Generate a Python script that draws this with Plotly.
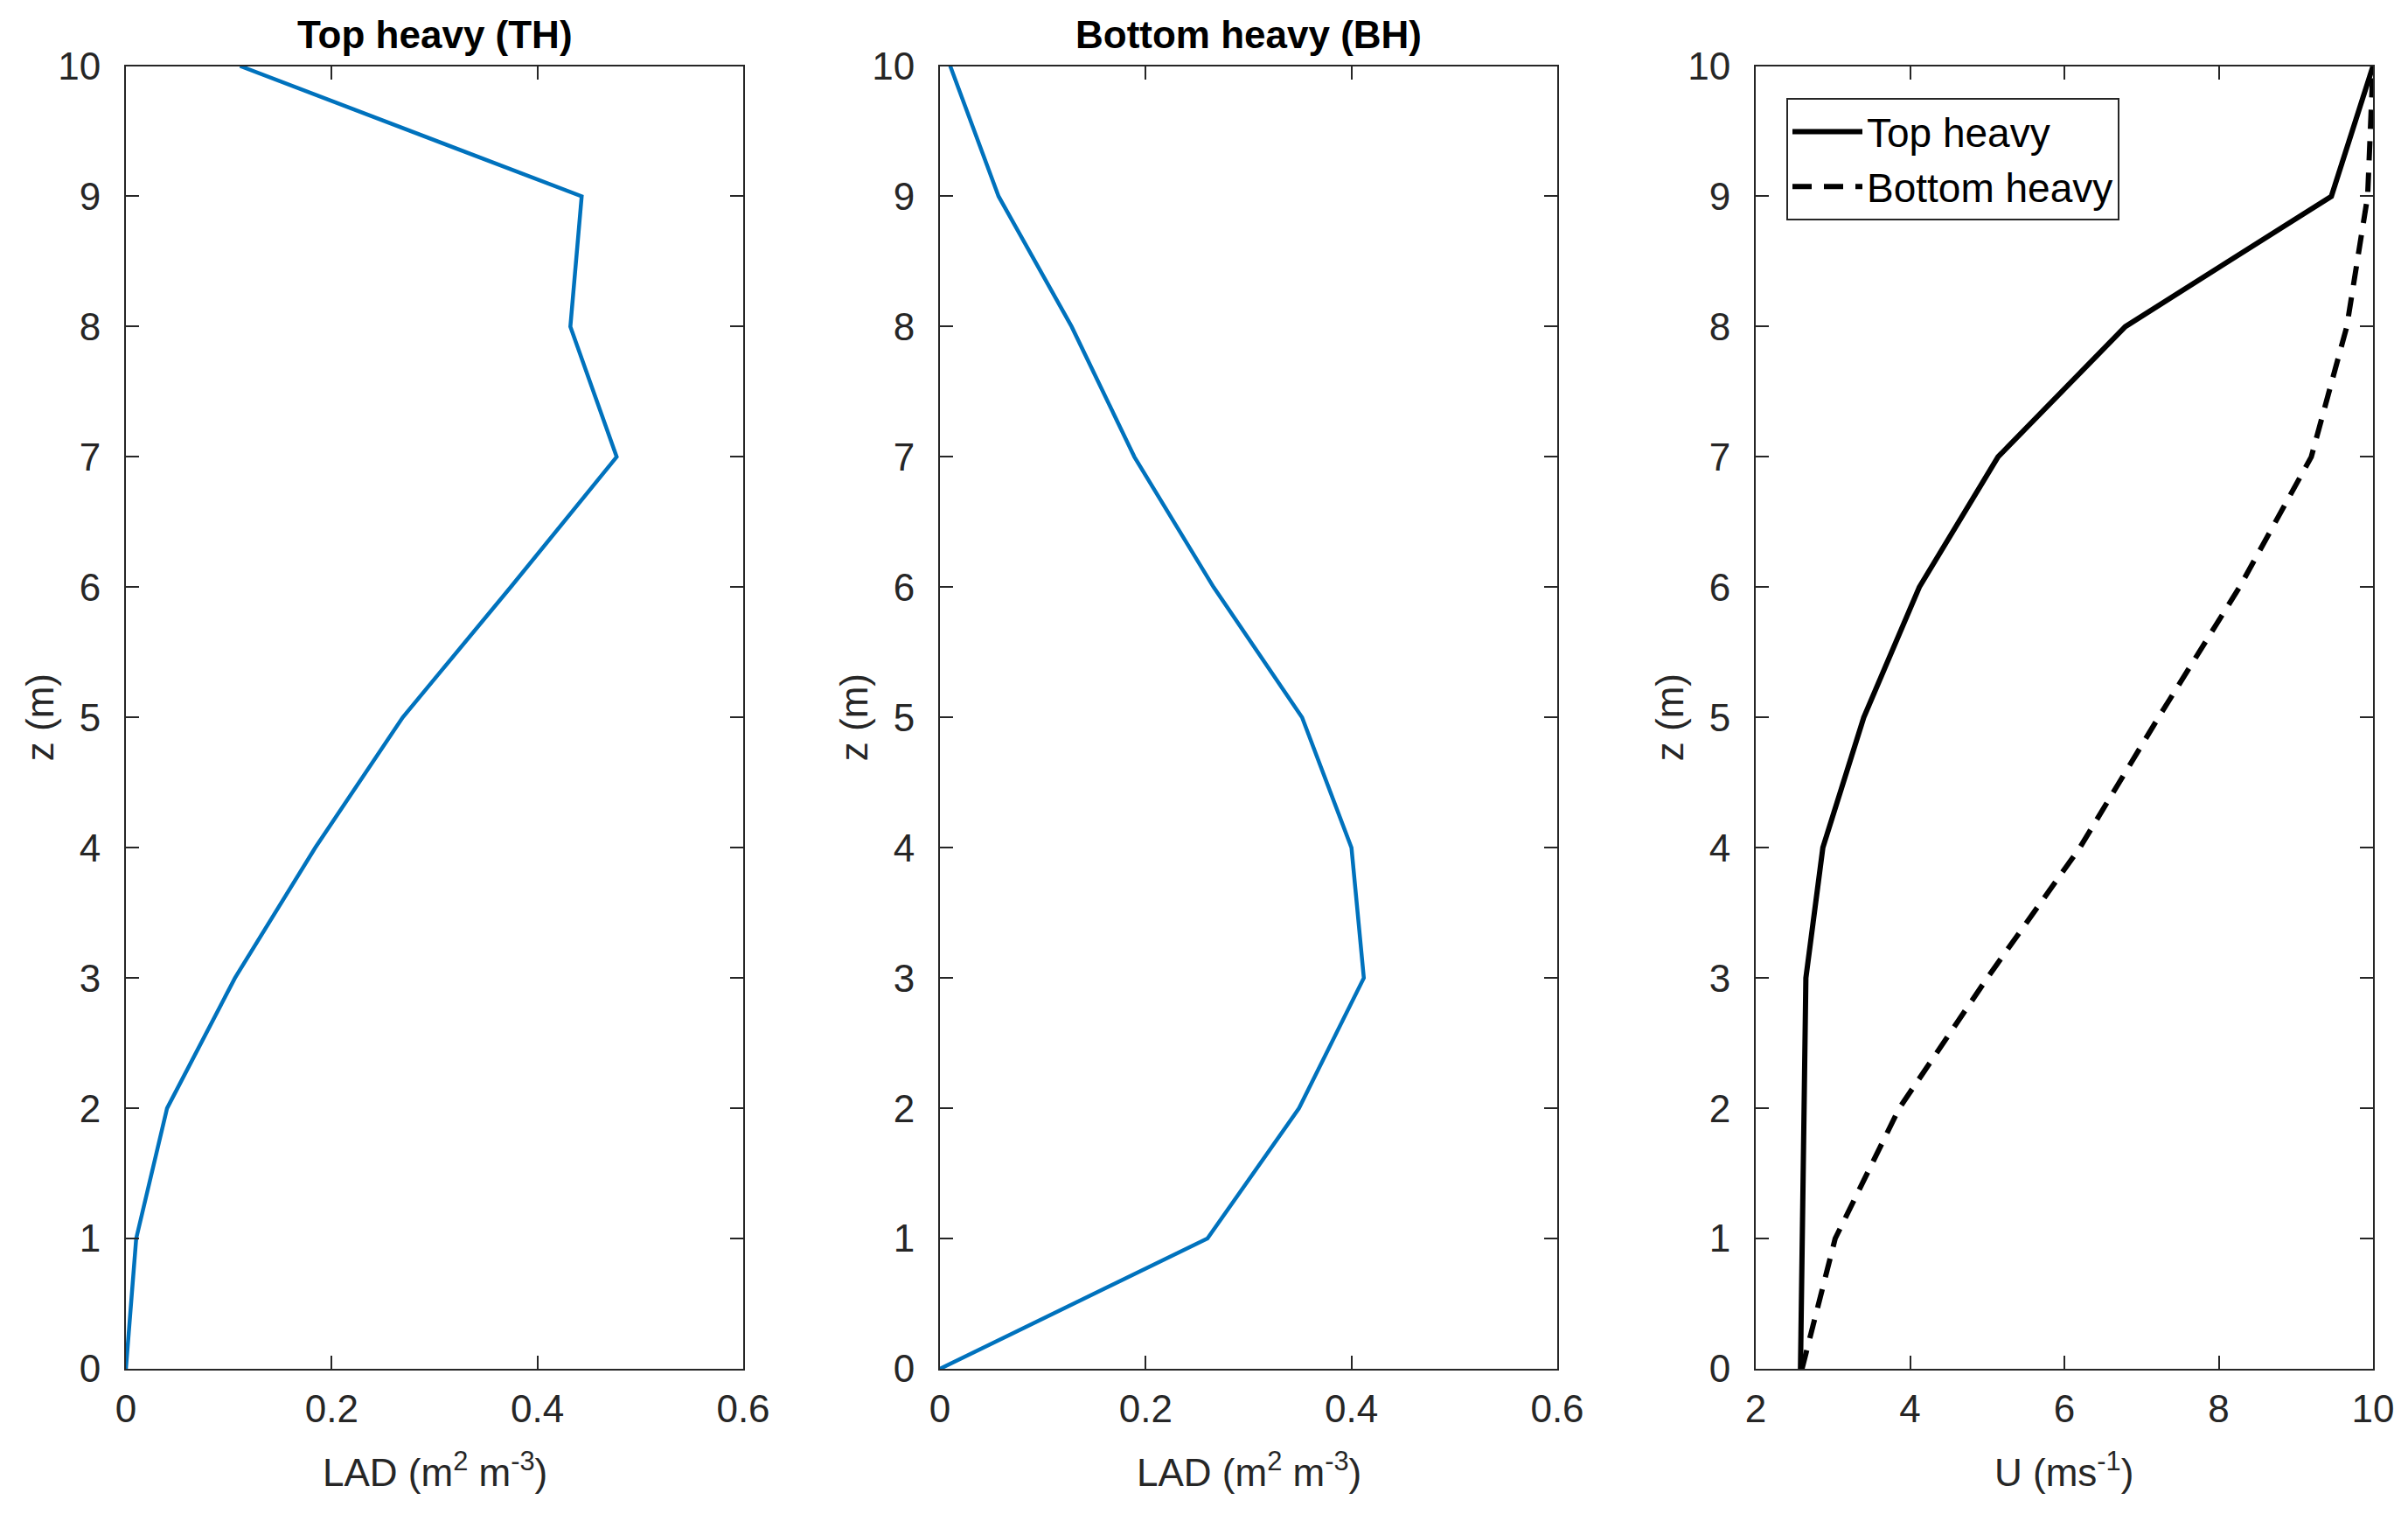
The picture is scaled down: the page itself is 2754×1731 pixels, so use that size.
import plotly.graph_objects as go

# ---------------- data ----------------
z = [0, 1, 2, 3, 4, 5, 6, 7, 8, 9, 10]

lad_top_heavy = [0.0, 0.010, 0.040, 0.106, 0.184, 0.269, 0.374, 0.477, 0.432, 0.443, 0.111]
lad_bottom_heavy = [0.0, 0.260, 0.349, 0.412, 0.400, 0.352, 0.266, 0.189, 0.128, 0.057, 0.010]

u_top_heavy = [2.58, 2.60, 2.62, 2.65, 2.87, 3.40, 4.12, 5.14, 6.79, 9.46, 10.0]
u_bottom_heavy = [2.60, 3.03, 3.86, 5.00, 6.20, 7.22, 8.27, 9.20, 9.66, 9.93, 10.0]

titles = ["Top heavy (TH)", "Bottom heavy (BH)"]
legend_names = ["Top heavy", "Bottom heavy"]
x_titles = ["LAD (m<sup>2</sup> m<sup>-3</sup>)", "LAD (m<sup>2</sup> m<sup>-3</sup>)", "U (ms<sup>-1</sup>)"]
y_title = "z (m)"
lad_ticks = [0, 0.2, 0.4, 0.6]
u_ticks = [2, 4, 6, 8, 10]
z_ticks = [0, 1, 2, 3, 4, 5, 6, 7, 8, 9, 10]

# ---------------- layout constants ----------------
W, H = 2754, 1731
OFF = 8                      # default page margin of the html body
FW, FH = W - 2 * OFF, H - 2 * OFF
FONT = "Liberation Sans, Arial, Helvetica, sans-serif"
AX = "#262626"
BLUE = "#0072BD"
FS = 44


def px(xp):
    return (xp - OFF) / FW


def py(yp):
    return 1 - (yp - OFF) / FH


x_domains = [[px(144), px(850)], [px(1075), px(1781)], [px(2008), px(2714)]]
y_domain = [py(1565), py(75.5)]

fig = go.Figure()

fig.add_trace(go.Scatter(x=lad_top_heavy, y=z, mode="lines", xaxis="x", yaxis="y",
                         line=dict(color=BLUE, width=4.5), showlegend=False))
fig.add_trace(go.Scatter(x=lad_bottom_heavy, y=z, mode="lines", xaxis="x2", yaxis="y2",
                         line=dict(color=BLUE, width=4.5), showlegend=False))
fig.add_trace(go.Scatter(x=u_top_heavy, y=z, mode="lines", xaxis="x3", yaxis="y3",
                         name=legend_names[0], line=dict(color="black", width=6)))
fig.add_trace(go.Scatter(x=u_bottom_heavy, y=z, mode="lines", xaxis="x3", yaxis="y3",
                         name=legend_names[1], line=dict(color="black", width=6, dash="22px,14px")))

common_axis = dict(
    showline=True, linecolor=AX, linewidth=2, mirror="ticks",
    ticks="inside", ticklen=15, tickwidth=2, tickcolor=AX,
    showgrid=False, zeroline=False, automargin=False,
    tickfont=dict(family=FONT, size=FS, color=AX),
)

layout = dict(
    width=FW, height=FH,
    template="none",
    margin=dict(l=0, r=0, t=0, b=0, pad=0),
    paper_bgcolor="white", plot_bgcolor="white",
    font=dict(family=FONT, color=AX),
    showlegend=True,
    legend=dict(x=px(2043), y=py(112), xanchor="left", yanchor="top",
                bgcolor="white", bordercolor=AX, borderwidth=2,
                font=dict(family=FONT, size=46, color="black"),
                itemwidth=80, tracegroupgap=0),
)

annotations = []
for i in range(3):
    sx = "" if i == 0 else str(i + 1)
    xr = [0, 0.6] if i < 2 else [2, 10]
    xt = lad_ticks if i < 2 else u_ticks
    layout["xaxis" + sx] = dict(common_axis, domain=x_domains[i], range=xr,
                                tickvals=xt, ticktext=[("%g" % v) for v in xt],
                                anchor="y" + sx, ticklabelstandoff=6)
    layout["yaxis" + sx] = dict(common_axis, domain=y_domain, range=[0, 10],
                                tickvals=z_ticks, anchor="x" + sx, ticklabelstandoff=18)
    xc = (x_domains[i][0] + x_domains[i][1]) / 2
    # x-axis title
    annotations.append(dict(text=x_titles[i], x=xc, y=py(1680), xref="paper", yref="paper",
                            xanchor="center", yanchor="middle", showarrow=False,
                            font=dict(family=FONT, size=FS, color=AX)))
    # y-axis title
    annotations.append(dict(text=y_title, x=x_domains[i][0] - 99 / FW, y=0.5 * (y_domain[0] + y_domain[1]),
                            xref="paper", yref="paper", xanchor="center", yanchor="middle",
                            textangle=-90, showarrow=False,
                            font=dict(family=FONT, size=FS, color=AX)))
    if i < 2:
        annotations.append(dict(text="<b>" + titles[i] + "</b>", x=xc, y=py(40),
                                xref="paper", yref="paper", xanchor="center", yanchor="middle",
                                showarrow=False, font=dict(family=FONT, size=FS, color="black")))

layout["annotations"] = annotations
fig.update_layout(**layout)

fig.write_html("out.html")
